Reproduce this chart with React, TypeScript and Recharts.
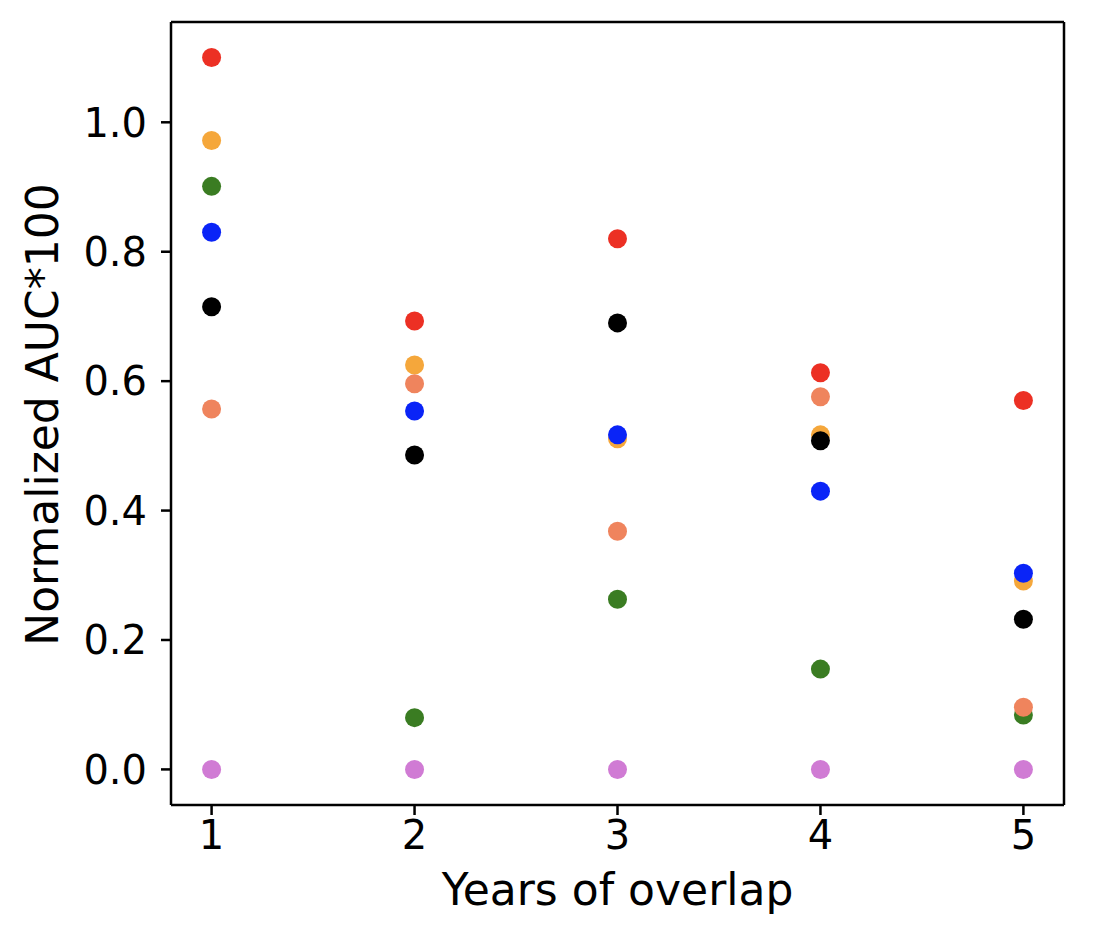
import React from "react";
import { ScatterChart, Scatter, XAxis, YAxis, ReferenceLine, Label } from "recharts";

const years = [1, 2, 3, 4, 5];
const redVals = [1.1, 0.693, 0.82, 0.613, 0.57];
const orangeVals = [0.972, 0.625, 0.511, 0.517, 0.291];
const greenVals = [0.901, 0.08, 0.263, 0.155, 0.084];
const blueVals = [0.83, 0.554, 0.517, 0.43, 0.303];
const blackVals = [0.715, 0.486, 0.69, 0.508, 0.232];
const salmonVals = [0.557, 0.596, 0.368, 0.576, 0.096];
const purpleVals = [0, 0, 0, 0, 0];
const yTicks = [0, 0.2, 0.4, 0.6, 0.8, 1.0];
const xTicks = [1, 2, 3, 4, 5];

const toPts = (vals: number[]) => years.map((x, i) => ({ x, y: vals[i] }));

const series = [
  { name: "purple", vals: purpleVals, color: "#d07bd4" },
  { name: "orange", vals: orangeVals, color: "#f5a73b" },
  { name: "green", vals: greenVals, color: "#3a7c22" },
  { name: "black", vals: blackVals, color: "#000000" },
  { name: "blue", vals: blueVals, color: "#0a24f7" },
  { name: "salmon", vals: salmonVals, color: "#ef845d" },
  { name: "red", vals: redVals, color: "#ec3024" },
];

const FONT = "DejaVu Sans, sans-serif";
const tickStyle = { fontSize: 40, fill: "#000", fontFamily: FONT };

export default function App() {
  return (
    <div style={{ position: "absolute", left: 0, top: 0, width: 1094, height: 938, background: "#fff" }}>
      <ScatterChart width={1094} height={938} margin={{ top: 22, right: 30, bottom: 0, left: 0 }}>
        <XAxis
          type="number"
          dataKey="x"
          domain={[0.8, 5.2]}
          ticks={xTicks}
          height={133}
          tickSize={10}
          tickMargin={6}
          axisLine={{ stroke: "#000", strokeWidth: 2.5 }}
          tickLine={{ stroke: "#000", strokeWidth: 2.5 }}
          tick={tickStyle}
          allowDataOverflow
        >
          <Label
            content={({ viewBox }: any) => (
              <text
                x={viewBox.x + viewBox.width / 2}
                y={viewBox.y + 100}
                textAnchor="middle"
                fontSize={44}
                fontFamily={FONT}
                fill="#000"
              >
                Years of overlap
              </text>
            )}
          />
        </XAxis>
        <YAxis
          type="number"
          dataKey="y"
          domain={[-0.055, 1.155]}
          ticks={yTicks}
          width={171}
          tickSize={10}
          tickMargin={14}
          tickFormatter={(v: number) => v.toFixed(1)}
          axisLine={{ stroke: "#000", strokeWidth: 2.5 }}
          tickLine={{ stroke: "#000", strokeWidth: 2.5 }}
          tick={tickStyle}
          allowDataOverflow
        >
          <Label
            content={({ viewBox }: any) => {
              const cx = 58;
              const cy = viewBox.y + viewBox.height / 2 + 1;
              return (
                <text
                  x={cx}
                  y={cy}
                  transform={`rotate(-90 ${cx} ${cy})`}
                  textAnchor="middle"
                  fontSize={44}
                  fontFamily={FONT}
                  fill="#000"
                >
                  Normalized AUC*100
                </text>
              );
            }}
          />
        </YAxis>
        <ReferenceLine y={1.155} stroke="#000" strokeWidth={2.5} ifOverflow="extendDomain" />
        <ReferenceLine x={5.2} stroke="#000" strokeWidth={2.5} ifOverflow="extendDomain" />
        {series.map((s) => (
          <Scatter
            key={s.name}
            name={s.name}
            data={toPts(s.vals)}
            fill={s.color}
            isAnimationActive={false}
            shape={(p: any) => <circle cx={p.cx} cy={p.cy} r={9.5} fill={s.color} />}
          />
        ))}
      </ScatterChart>
    </div>
  );
}
